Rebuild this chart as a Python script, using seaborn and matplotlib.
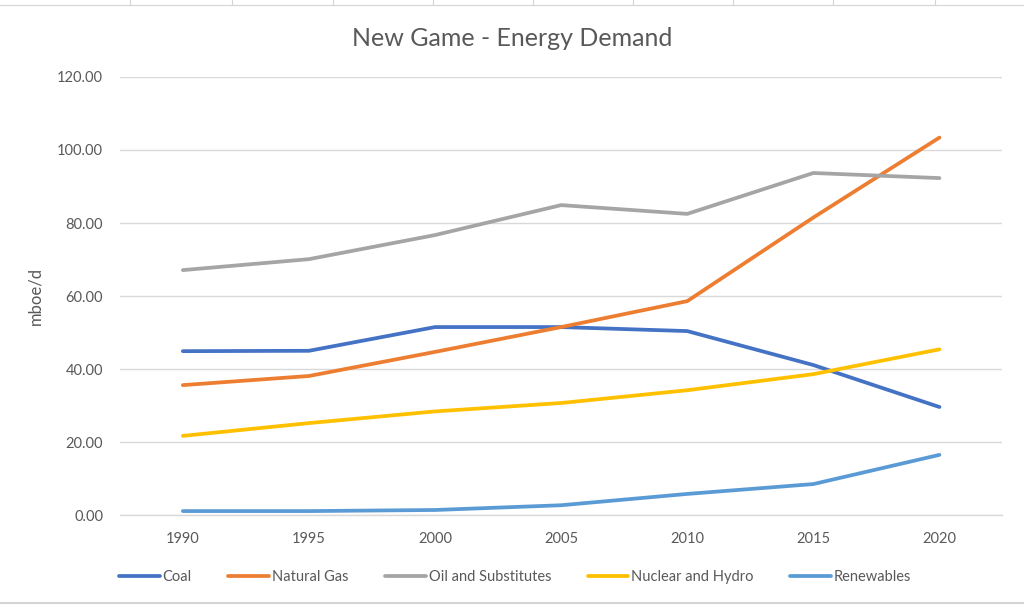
import matplotlib
matplotlib.use("Agg")
import matplotlib.pyplot as plt
import seaborn as sns
import pandas as pd
from matplotlib.lines import Line2D

years = ["1990", "1995", "2000", "2005", "2010", "2015", "2020"]
coal = [44.9, 45.0, 51.5, 51.5, 50.4, 41.1, 29.6]
natural_gas = [35.6, 38.1, 44.7, 51.5, 58.6, 81.5, 103.4]
oil = [67.1, 70.1, 76.7, 84.9, 82.5, 93.7, 92.3]
nuclear = [21.7, 25.2, 28.4, 30.7, 34.2, 38.6, 45.4]
renewables = [1.1, 1.1, 1.4, 2.7, 5.8, 8.5, 16.5]
series_names = ["Coal", "Natural Gas", "Oil and Substitutes", "Nuclear and Hydro", "Renewables"]
colors = ["#4472C4", "#ED7D31", "#A5A5A5", "#FFC000", "#5B9BD5"]

rows = []
for name, vals in zip(series_names, [coal, natural_gas, oil, nuclear, renewables]):
    for i, v in enumerate(vals):
        rows.append({"pos": i, "Year": years[i], "value": v, "series": name})
df = pd.DataFrame(rows)

sns.set_theme(style="white")
plt.rcParams['font.family'] = ['Lato', 'DejaVu Sans']

fig = plt.figure(figsize=(10.24, 6.06), dpi=100)
ax = fig.add_axes([0.117, 0.150, 0.862, 0.723])

sns.lineplot(data=df, x="pos", y="value", hue="series", hue_order=series_names,
             palette=colors, linewidth=2.7, ax=ax, legend=False, sort=False)

ax.set_xlim(-0.5, 6.5)
ax.set_ylim(0, 120)
ax.set_xticks(range(len(years)))
ax.set_xticklabels(years)
ax.set_yticks([0, 20, 40, 60, 80, 100, 120])
ax.set_yticklabels([f"{v:.2f}" for v in [0, 20, 40, 60, 80, 100, 120]])
ax.yaxis.grid(True, color="#D9D9D9", linewidth=1.0)
ax.xaxis.grid(False)
ax.set_axisbelow(True)
for s in ["top", "right", "left"]:
    ax.spines[s].set_visible(False)
ax.spines["bottom"].set_color("#D9D9D9")
ax.spines["bottom"].set_linewidth(1.0)
ax.tick_params(axis="both", length=0, colors="#595959", labelsize=10.5, pad=12)
ax.set_xlabel("")
ax.set_ylabel("mboe/d", color="#595959", fontsize=12, labelpad=10)

fig.text(0.5, 0.937, "New Game - Energy Demand", ha="center", va="center",
         fontsize=18, color="#595959")

handles = [Line2D([0], [0], color=c, lw=2.7) for c in colors]
fig.legend(handles, series_names, loc="center", bbox_to_anchor=(0.503, 0.048), ncol=5,
           frameon=False, fontsize=10.5, handlelength=2.8, handletextpad=0.2,
           columnspacing=2.5, labelcolor="#595959")

# spreadsheet cell lines at the top and border at bottom
for x in [130, 232, 333, 433, 533, 633, 733, 833, 935]:
    fig.add_artist(Line2D([x / 1024, x / 1024], [1 - 5 / 606, 1.0], color="#D4D4D4", lw=0.8))
fig.add_artist(Line2D([0, 1], [1 - 5 / 606, 1 - 5 / 606], color="#D4D4D4", lw=0.8))
fig.add_artist(Line2D([0, 1], [3 / 606, 3 / 606], color="#D4D4D4", lw=1.5))

fig.savefig("out.png", dpi=100, facecolor="white")
